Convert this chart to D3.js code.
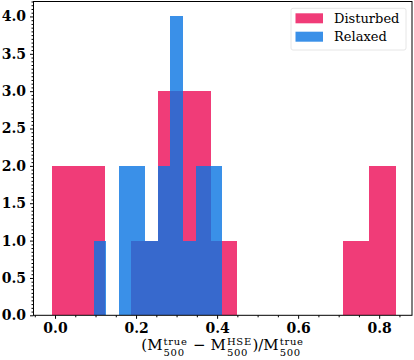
<!DOCTYPE html>
<html><head><meta charset="utf-8">
<script src="https://cdnjs.cloudflare.com/ajax/libs/d3/7.8.5/d3.min.js"></script>
<style>body{margin:0;background:#fff}svg{display:block}</style>
</head><body><svg id="c" width="414" height="360"></svg>
<script>
// Histogram data (bin edges and counts)
const disturbedEdges = [-0.008, 0.057, 0.123, 0.188, 0.253, 0.319, 0.384, 0.449, 0.515, 0.580, 0.645, 0.711, 0.776, 0.841];
const disturbedCounts = [2, 2, 0, 1, 3, 3, 1, 0, 0, 0, 0, 1, 2];
const relaxedEdges = [0.095, 0.126, 0.158, 0.189, 0.221, 0.253, 0.284, 0.316, 0.347, 0.379, 0.411];
const relaxedCounts = [1, 0, 2, 2, 1, 2, 4, 1, 2, 2];
const xTicks = [0.0, 0.2, 0.4, 0.6, 0.8];
const yTicks = [0.0, 0.5, 1.0, 1.5, 2.0, 2.5, 3.0, 3.5, 4.0];
const seriesNames = ["Disturbed", "Relaxed"];

const svg = d3.select("#c");
const L = 33.5, R = 412, T = 1.5, B = 315.3;
const x = d3.scaleLinear().domain([-0.0531, 0.881]).range([L, R]);
const y = d3.scaleLinear().domain([0, 4.2]).range([B, T]);

const pinkFill = "rgb(236,11,86)", blueFill = "rgb(9,116,226)", op = 0.8;

function bins(edges, counts){ return counts.map((c,i)=>({x0:edges[i], x1:edges[i+1], c})); }

function drawHist(edges, counts, fill){
  svg.append("g").attr("shape-rendering","crispEdges").selectAll("rect").data(bins(edges, counts).filter(d=>d.c>0))
    .join("rect").attr("x", d=>x(d.x0)).attr("width", d=>x(d.x1)-x(d.x0))
    .attr("y", d=>y(d.c)).attr("height", d=>y(0)-y(d.c))
    .attr("fill", fill).attr("fill-opacity", op);
}
drawHist(disturbedEdges, disturbedCounts, pinkFill);
drawHist(relaxedEdges, relaxedCounts, blueFill);

// Axes
const tickFont = "'DejaVu Serif', serif";
const isMajor = (arr, v) => arr.some(t=>Math.abs(t-v)<1e-6);
const xMinorVals = d3.range(-0.05, 0.8801, 0.05).filter(v=>!isMajor(xTicks, v));
const yMinorVals = d3.range(0, 4.2001, 0.05).filter(v=>!isMajor(yTicks, v));
const xAxis = d3.axisBottom(x).tickValues(xTicks).tickFormat(d3.format(".1f")).tickSize(3.5).tickPadding(4);
const xMinor = d3.axisBottom(x).tickValues(xMinorVals).tickFormat("").tickSize(2);
const yAxis = d3.axisLeft(y).tickValues(yTicks).tickFormat(d3.format(".1f")).tickSize(3.5).tickPadding(4);
const yMinor = d3.axisLeft(y).tickValues(yMinorVals).tickFormat("").tickSize(2);

function style(g){
  g.select(".domain").remove();
  g.selectAll("line").attr("stroke","#000").attr("stroke-width",1);
  g.selectAll("text").attr("font-family", tickFont).attr("font-weight","bold").attr("font-size","14px").attr("fill","#000");
}
svg.append("g").attr("transform",`translate(0,${B})`).call(xMinor).call(style);
svg.append("g").attr("transform",`translate(0,${B})`).call(xAxis).call(style);
svg.append("g").attr("transform",`translate(${L},0)`).call(yMinor).call(style);
svg.append("g").attr("transform",`translate(${L},0)`).call(yAxis).call(style);

// spines
svg.append("rect").attr("x",L).attr("y",T).attr("width",R-L).attr("height",B-T)
  .attr("fill","none").attr("stroke","#000").attr("stroke-width",1);

// Legend
const lg = svg.append("g");
lg.append("rect").attr("x",291).attr("y",8.3).attr("width",115).attr("height",41.7).attr("rx",2)
  .attr("fill","#fff").attr("fill-opacity",0.8).attr("stroke","#e6e6e6").attr("stroke-width",1);
const legendColors = [pinkFill, blueFill];
seriesNames.forEach((n,i)=>{
  lg.append("rect").attr("x",295.5).attr("y",13.3+i*18.4).attr("width",27.5).attr("height",10)
    .attr("fill",legendColors[i]).attr("fill-opacity",op);
  lg.append("text").attr("x",334).attr("y",22.8+i*18.4).text(n)
    .attr("font-family",tickFont).attr("font-size","13px").attr("fill","#000");
});

// X label: (M_500^true − M_500^HSE)/M_500^true  -- one text element with positioned tspans
const mainSize = 15, scriptSize = 10, ls = 0.7, baseY = 349.5;
const pieces = [
  {t:"(M"}, {sup:"true", sub:"500"}, {t:"−", pad:5}, {t:"M"}, {sup:"HSE", sub:"500"}, {t:")/M"}, {sup:"true", sub:"500"}
];
const meas = svg.append("text").attr("font-family",tickFont).attr("visibility","hidden");
function w(str, size, spacing){ meas.attr("font-size", size+"px").attr("letter-spacing", (spacing||0)+"px").text(str); return meas.node().getComputedTextLength(); }
let cx = 0;
const spans = [];
pieces.forEach(p=>{
  if (p.t){
    const pad = p.pad || 0;
    spans.push({s:p.t, size:mainSize, x:cx+pad, y:baseY, ls:0});
    cx += w(p.t, mainSize) + 2*pad;
  } else {
    spans.push({s:p.sup, size:scriptSize, x:cx+1, y:baseY-4.5, ls:ls});
    spans.push({s:p.sub, size:scriptSize, x:cx+1, y:baseY+6, ls:ls});
    cx += Math.max(w(p.sup, scriptSize, ls), w(p.sub, scriptSize, ls)) + 1.5;
  }
});
meas.remove();
const x0 = (L+R)/2 - cx/2;
const lab = svg.append("text").attr("font-family",tickFont).attr("fill","#000");
spans.forEach(s=>{
  lab.append("tspan").attr("x", x0+s.x).attr("y", s.y).attr("font-size", s.size+"px")
    .attr("letter-spacing", s.ls+"px").text(s.s);
});
</script></body></html>
